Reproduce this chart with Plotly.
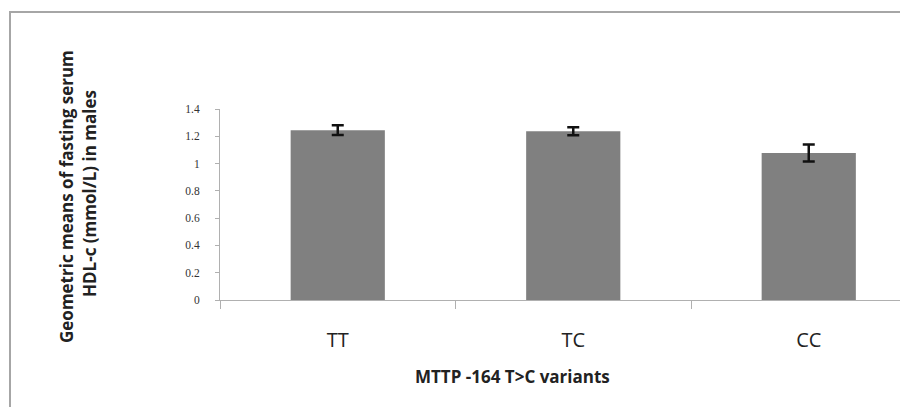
import plotly.graph_objects as go

categories = ["TT", "TC", "CC"]
means = [1.245, 1.237, 1.077]
errors = [0.035, 0.030, 0.062]
y_ticks = [0, 0.2, 0.4, 0.6, 0.8, 1.0, 1.2, 1.4]
y_title_lines = ["Geometric means of fasting serum", "HDL-c (mmol/L) in males"]
x_title = "MTTP -164 T>C variants"

# page body adds an 8px offset; positions below are compensated
OFF = 8
W, H = 908, 407
L, R, T = 220 - OFF, 0, 109 - OFF
B = H - (300 - OFF)
pw = W - L - R
ph = H - T - B

def px_x(x):
    return (x - OFF - L) / pw

def px_y(y):
    return (H - B - (y - OFF)) / ph

fig = go.Figure()
fig.add_trace(go.Bar(
    x=categories, y=means,
    marker=dict(color="#808080", line=dict(width=0)),
    error_y=dict(type="data", array=errors, visible=True,
                 color="#111111", thickness=2.5, width=6),
    width=0.4,
))

title_font = dict(family="Open Sans", size=17, color="#222222")
cat_w = 235.5
fig.update_layout(
    width=W, height=H,
    margin=dict(l=L, r=R, t=T, b=B, pad=0),
    paper_bgcolor="white", plot_bgcolor="white",
    showlegend=False,
    xaxis=dict(
        type="category",
        range=[-0.5, -0.5 + pw / cat_w],
        tickson="boundaries",
        ticks="outside", ticklen=8, tickcolor="#b0b0b0", tickwidth=1,
        showline=True, linecolor="#b0b0b0", linewidth=1,
        showgrid=False, zeroline=False,
        tickfont=dict(family="Open Sans", size=20, color="#222222"),
        ticklabelstandoff=22,
    ),
    yaxis=dict(
        range=[0, 1.4],
        tickvals=y_ticks,
        ticks="outside", ticklen=4, tickcolor="#b0b0b0", tickwidth=1,
        showline=True, linecolor="#b0b0b0", linewidth=1,
        showgrid=False, zeroline=False,
        tickfont=dict(family="Liberation Serif", size=11.5, color="#333333"),
        ticklabelstandoff=13,
    ),
    annotations=[
        dict(text="<b>" + x_title.replace(">", "&gt;") + "</b>", xref="paper", yref="paper",
             x=px_x(512), y=px_y(376), xanchor="center", yanchor="middle",
             showarrow=False, font=title_font),
        dict(text="<b>" + y_title_lines[0] + "</b>",
             xref="paper", yref="paper", x=px_x(66), y=px_y(197),
             xanchor="center", yanchor="middle", textangle=-90,
             showarrow=False, font=title_font),
        dict(text="<b>" + y_title_lines[1] + "</b>",
             xref="paper", yref="paper", x=px_x(89), y=px_y(194),
             xanchor="center", yanchor="middle", textangle=-90,
             showarrow=False, font=title_font),
    ],
    shapes=[
        dict(type="rect", xref="paper", yref="paper",
             x0=px_x(10), y0=px_y(12), x1=px_x(W + 30), y1=px_y(H + 30),
             line=dict(color="#a6a6a6", width=2), fillcolor="rgba(0,0,0,0)",
             layer="above"),
    ],
)

fig.write_html("out.html")
